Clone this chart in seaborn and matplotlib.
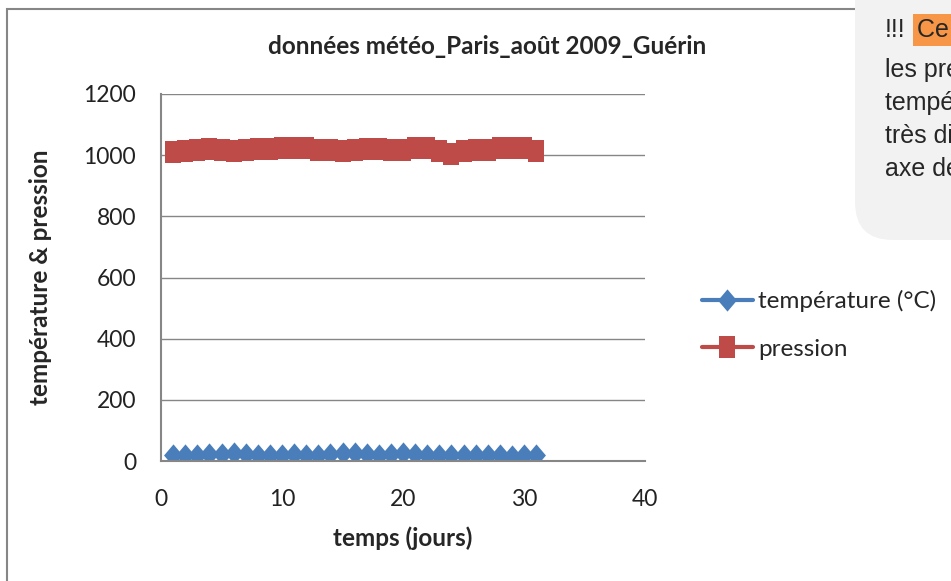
import numpy as np
import pandas as pd
import seaborn as sns
import matplotlib.pyplot as plt
from matplotlib.patches import Rectangle, FancyBboxPatch

# données (août 2009, Paris)
jours = list(range(1, 32))
temperature = [20, 18, 21, 22, 24, 26, 22, 21, 20, 21, 22, 21, 20, 22, 25,
               25, 22, 21, 24, 26, 22, 21, 20, 20, 21, 20, 19, 18, 16, 20, 19]
pression = [1010, 1015, 1018, 1020, 1018, 1015, 1018, 1019, 1020, 1022, 1025,
            1023, 1018, 1016, 1015, 1016, 1020, 1021, 1018, 1016, 1023, 1025,
            1015, 1005, 1012, 1016, 1018, 1022, 1025, 1023, 1015]
series = ["température (°C)", "pression"]
yticks = [0, 200, 400, 600, 800, 1000, 1200]
xticks = [0, 10, 20, 30, 40]

df = pd.DataFrame({"jour": jours * 2,
                   "valeur": temperature + pression,
                   "serie": [series[0]] * 31 + [series[1]] * 31})

sns.set_style("white")
plt.rcParams['font.family'] = ['Lato', 'DejaVu Sans']

fig = plt.figure(figsize=(9.51, 5.81), dpi=100)
ax = fig.add_axes([161/951, 1-461/581, (645-161)/951, (461-94)/581])

# marqueurs un peu étirés en hauteur comme sur la capture
losange = [(0, 1), (0.85, 0), (0, -1), (-0.85, 0), (0, 1)]
carre = [(-0.68, -1), (0.68, -1), (0.68, 1), (-0.68, 1), (-0.68, -1)]

couleurs = {series[0]: "#4a7ebb", series[1]: "#be4b48"}
sns.lineplot(data=df, x="jour", y="valeur", hue="serie", style="serie",
             palette=couleurs, markers={series[0]: losange, series[1]: carre},
             dashes=False, linewidth=3, markersize=16, markeredgewidth=0,
             legend=False, ax=ax)

ax.set_xlim(0, 40)
ax.set_ylim(0, 1200)
ax.set_xticks(xticks)
ax.set_yticks(yticks)
ax.tick_params(axis="y", labelsize=16.5, length=0, pad=18, colors="#222222")
ax.tick_params(axis="x", labelsize=16.5, length=0, pad=20, colors="#222222")
ax.yaxis.grid(True, color="#868686", linewidth=1)
for s in ["top", "right"]:
    ax.spines[s].set_visible(False)
for s in ["left", "bottom"]:
    ax.spines[s].set_color("#868686")
    ax.spines[s].set_linewidth(1.5)
ax.set_xlabel("temps (jours)", fontsize=17.5, fontweight="bold")
ax.set_ylabel("température & pression", fontsize=17.5, fontweight="bold")
ax.xaxis.set_label_coords(0.5, -(526-461)/367)
ax.yaxis.set_label_coords((52-161)/484, 0.5)
fig.text(487/951, 1-47/581, "données météo_Paris_août 2009_Guérin",
         ha="center", va="center", fontsize=17.5, fontweight="bold")

handles = ax.get_lines()[:2]
fig.legend(handles, series, loc="center left",
           bbox_to_anchor=(680/951, 1-325/581), frameon=False, fontsize=17.5,
           handlelength=2.1, handletextpad=0.2, labelspacing=1.1)

# cadre du graphique
fig.patches.append(Rectangle((7/951, -0.2), 1.2, 1.2 - 9/581,
                             transform=fig.transFigure, fill=False,
                             edgecolor="#868686", linewidth=1.5, zorder=0))

# bulle de commentaire (en pixels)
fig.patches.append(FancyBboxPatch((855, 581-240), 250, 320,
                                  boxstyle="round,pad=0,rounding_size=38",
                                  transform=None, facecolor="#f2f2f2",
                                  edgecolor="none", zorder=5))
lignes = ["les pressions et les", "températures sont", "très différentes : second",
          "axe des ordonnées"]
fig.text(885/951, 1-30/581, "!!!", fontsize=18, family="Liberation Sans",
         va="center", zorder=6)
fig.text(917/951, 1-30/581, "Ce graphique", fontsize=18, family="Liberation Sans",
         va="center", zorder=6,
         bbox=dict(facecolor="#f79646", edgecolor="none", pad=3))
for i, l in enumerate(lignes):
    fig.text(885/951, 1-(70 + 33*i)/581, l, fontsize=18,
             family="Liberation Sans", va="center", zorder=6)

fig.savefig("out.png", dpi=100)
